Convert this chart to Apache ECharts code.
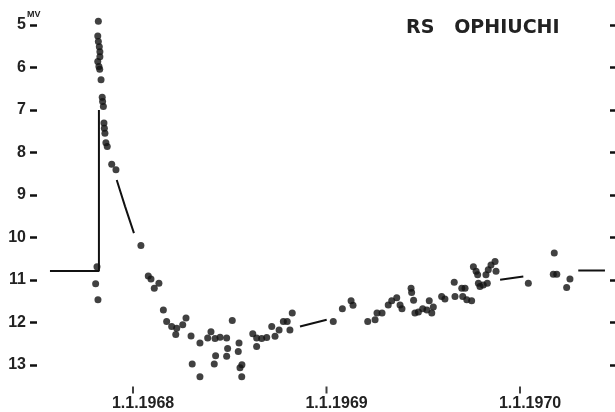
<!DOCTYPE html>
<html>
<head>
<meta charset="utf-8">
<script src="https://cdn.jsdelivr.net/npm/echarts@6/dist/echarts.min.js"></script>
<style>
  html, body { margin: 0; padding: 0; background: #fff; }
  #chart { width: 615px; height: 412px; }
</style>
</head>
<body>
<div id="chart"></div>
<script>
// observations: [date in years, visual magnitude]
const riseObs = [
  [1967.821, 4.91], [1967.818, 5.26], [1967.821, 5.39], [1967.826, 5.51], [1967.829, 5.63],
  [1967.829, 5.75], [1967.818, 5.86], [1967.824, 5.98], [1967.828, 6.04], [1967.835, 6.29],
  [1967.841, 6.70], [1967.843, 6.80], [1967.847, 6.92], [1967.850, 7.31], [1967.852, 7.43],
  [1967.855, 7.55], [1967.860, 7.77], [1967.867, 7.86], [1967.890, 8.28], [1967.912, 8.41],
  [1967.814, 10.69], [1967.807, 11.09], [1967.819, 11.47]
]
const declineObs = [
  [1968.041, 10.19], [1968.079, 10.91], [1968.093, 10.98], [1968.134, 11.08], [1968.110, 11.20],
  [1968.157, 11.71], [1968.174, 11.98], [1968.200, 12.10], [1968.226, 12.14], [1968.221, 12.29],
  [1968.257, 12.06], [1968.274, 11.90], [1968.300, 12.32], [1968.346, 12.49], [1968.306, 12.98],
  [1968.346, 13.28]
]
const minimumObs = [
  [1968.386, 12.37], [1968.403, 12.22], [1968.424, 12.38], [1968.450, 12.35], [1968.484, 12.37],
  [1968.513, 11.96], [1968.427, 12.79], [1968.420, 12.98], [1968.489, 12.62], [1968.484, 12.80],
  [1968.548, 12.49], [1968.544, 12.69], [1968.563, 13.00], [1968.553, 13.07], [1968.562, 13.28],
  [1968.639, 12.57], [1968.619, 12.27], [1968.639, 12.37], [1968.665, 12.38], [1968.691, 12.36],
  [1968.717, 12.10], [1968.734, 12.33], [1968.755, 12.18], [1968.777, 11.98], [1968.797, 11.98],
  [1968.811, 12.18], [1968.823, 11.78]
]
const recoveryObs = [
  [1969.035, 11.98], [1969.082, 11.68], [1969.127, 11.49], [1969.137, 11.60], [1969.213, 11.98],
  [1969.251, 11.94], [1969.261, 11.78], [1969.287, 11.78], [1969.319, 11.59], [1969.337, 11.49],
  [1969.363, 11.42], [1969.380, 11.59], [1969.390, 11.68], [1969.437, 11.20], [1969.440, 11.30],
  [1969.450, 11.48], [1969.457, 11.78], [1969.475, 11.76], [1969.497, 11.68], [1969.519, 11.71],
  [1969.531, 11.49], [1969.552, 11.64], [1969.544, 11.78], [1969.595, 11.39], [1969.612, 11.45],
  [1969.660, 11.06], [1969.664, 11.39], [1969.699, 11.20], [1969.716, 11.20], [1969.704, 11.39],
  [1969.725, 11.47], [1969.750, 11.49], [1969.759, 10.69], [1969.773, 10.80], [1969.781, 10.88],
  [1969.785, 11.08], [1969.793, 11.16], [1969.810, 11.12], [1969.831, 11.08], [1969.824, 10.88],
  [1969.836, 10.76], [1969.850, 10.65], [1969.871, 10.57], [1969.876, 10.80],
  [1970.043, 11.08], [1970.177, 10.37], [1970.172, 10.87], [1970.190, 10.87], [1970.258, 10.98],
  [1970.241, 11.18]
]

// hand-drawn mean curve pieces
const quiescentLine = [[1967.571, 10.79], [1967.824, 10.79], [1967.824, 7.0]]
const fadeLine = [[1967.916, 8.65], [1967.959, 9.27], [1968.005, 9.90]]
const midLine = [[1968.863, 12.10], [1969.001, 11.94]]
const lateLine = [[1969.897, 11.00], [1970.017, 10.92]]
const tailLine = [[1970.301, 10.78], [1970.439, 10.78]]

const magTicks = [5, 6, 7, 8, 9, 10, 11, 12, 13]
const yearTicks = [1968, 1969, 1970]
// the printed dates sit a little right of their tick marks
const yearLabelPos = yearTicks.map(y => y + 0.052)

const ink = '#111'
const xMin = 1967.504
const xMax = 1970.465
const magMin = 4.5
const magMax = 13.5
const chart = echarts.init(document.getElementById('chart'))

const lineSeries = (data) => ({
  type: 'line',
  data: data,
  showSymbol: false,
  symbol: 'none',
  lineStyle: { color: ink, width: 2 },
  z: 2
})

const option = {
  animation: false,
  backgroundColor: '#fff',
  title: {
    text: 'RS   OPHIUCHI',
    left: 401,
    top: 14,
    textStyle: { fontFamily: 'DejaVu Sans', fontWeight: 'bold', fontSize: 19, color: '#222' }
  },
  graphic: [{
    type: 'text',
    left: 27,
    top: 10,
    style: { text: 'MV', font: 'bold 9px "Liberation Sans"', fill: '#222' }
  }],
  grid: { left: 37, right: 5, top: 3.75, bottom: 25.75 },
  xAxis: {
    type: 'value',
    min: xMin,
    max: xMax,
    axisLine: { show: false },
    splitLine: { show: false },
    axisTick: { show: false },
    axisLabel: {
      customValues: yearLabelPos,
      formatter: v => '1.1.' + Math.floor(v),
      margin: 10,
      fontFamily: 'Liberation Sans',
      fontWeight: 'bold',
      fontSize: 16,
      color: '#222'
    }
  },
  yAxis: [{
    type: 'value',
    inverse: true,
    min: magMin,
    max: magMax,
    position: 'left',
    axisLine: { show: false },
    splitLine: { show: false },
    axisTick: { show: true, customValues: magTicks, length: 7, lineStyle: { color: ink, width: 2.5 } },
    axisLabel: {
      customValues: magTicks,
      margin: 11,
      fontFamily: 'Liberation Sans',
      fontWeight: 'bold',
      fontSize: 16,
      color: '#222'
    }
  }, {
    type: 'value',
    inverse: true,
    min: magMin,
    max: magMax,
    position: 'right',
    axisLine: { show: false },
    splitLine: { show: false },
    axisTick: { show: true, customValues: magTicks, length: 6, lineStyle: { color: ink, width: 2.5 } },
    axisLabel: { show: false }
  }],
  series: [
    lineSeries(quiescentLine),
    lineSeries(fadeLine),
    lineSeries(midLine),
    lineSeries(lateLine),
    lineSeries(tailLine),
    {
      // year tick marks below the plot, placed through the x scale
      type: 'scatter',
      data: yearTicks.map(y => [y, magMax]),
      symbol: 'rect',
      symbolSize: [2, 7],
      symbolOffset: [0, 4],
      itemStyle: { color: ink },
      clip: false,
      silent: true,
      z: 1
    },
    {
      type: 'scatter',
      data: [...riseObs, ...declineObs, ...minimumObs, ...recoveryObs],
      symbolSize: 7,
      itemStyle: { color: ink },
      z: 3
    }
  ]
}
chart.setOption(option)
</script>
</body>
</html>
